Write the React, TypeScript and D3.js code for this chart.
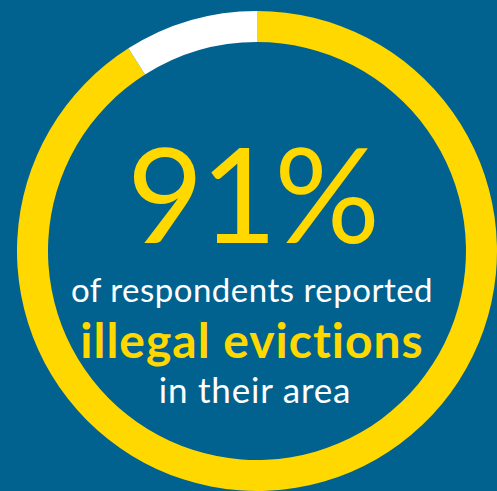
import { useEffect, useRef } from 'react'
import * as d3 from 'd3'

const W = 497, H = 491
const CX = 257, CY = 251, R_OUT = 240, R_IN = 209

const segments = ['reported', 'not reported']
const shares = [91, 9]
const colors = ['#FFD800', '#FFFFFF']

const headline = '91%'
const lines = [
  { text: 'of respondents reported', size: 33, weight: 400, spacing: 0.5, color: '#FFFFFF', y: 302, x: 252 },
  { text: 'illegal evictions', size: 48, weight: 700, spacing: 1, color: '#FFD800', y: 358, x: 252 },
  { text: 'in their area', size: 35, weight: 400, spacing: 0.8, color: '#FFFFFF', y: 403, x: 255 },
]

export default function App() {
  const svgRef = useRef<SVGSVGElement>(null)

  useEffect(() => {
    document.body.style.margin = '0'
    const svg = d3.select(svgRef.current!)
    svg.selectAll('*').remove()

    svg.append('rect').attr('width', W).attr('height', H).attr('fill', '#02628F')

    const pie = d3.pie<number>().sort(null).value(d => d)
    const arc = d3.arc<d3.PieArcDatum<number>>().innerRadius(R_IN).outerRadius(R_OUT)

    const g = svg.append('g').attr('transform', `translate(${CX},${CY})`)
    g.selectAll('path')
      .data(pie(shares))
      .join('path')
      .attr('d', arc)
      .attr('fill', (_, i) => colors[i])
      .attr('data-label', (_, i) => segments[i])

    // big headline number
    svg.append('text')
      .attr('x', 252).attr('y', 243)
      .attr('text-anchor', 'middle')
      .attr('font-family', 'Lato, sans-serif')
      .attr('font-weight', 400)
      .attr('font-size', 132)
      .attr('letter-spacing', -3)
      .attr('fill', '#FFD800')
      .text(headline)

    lines.forEach(l => {
      svg.append('text')
        .attr('x', l.x).attr('y', l.y)
        .attr('text-anchor', 'middle')
        .attr('font-family', 'Lato, sans-serif')
        .attr('font-weight', l.weight)
        .attr('font-size', l.size)
        .attr('letter-spacing', l.spacing)
        .attr('fill', l.color)
        .text(l.text)
    })
  }, [])

  return <svg ref={svgRef} width={W} height={H} viewBox={`0 0 ${W} ${H}`} style={{ display: 'block' }} />
}
